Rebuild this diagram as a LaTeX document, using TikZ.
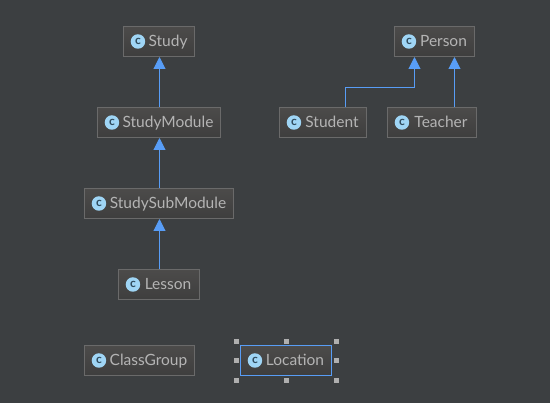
\documentclass[tikz,border=0pt]{standalone}
\usepackage{fontspec}
\setmainfont{Lato}
\usetikzlibrary{arrows.meta,positioning,calc}

\definecolor{canvasbg}{HTML}{3C3F41}
\definecolor{boxborder}{HTML}{6A6A6A}
\definecolor{boxtop}{HTML}{4C4B4A}
\definecolor{boxbottom}{HTML}{3E3E3E}
\definecolor{boxtext}{HTML}{B4B4B4}
\definecolor{inherit}{HTML}{589DF6}
\definecolor{iconfill}{HTML}{9FD5F5}
\definecolor{icontext}{HTML}{2F4A5C}
\definecolor{handle}{HTML}{AFAFAF}

\begin{document}
\begin{tikzpicture}[
    x=1pt, y=-1pt,
    node distance=50pt,
    box/.style={rectangle, draw=boxborder, line width=1pt, top color=boxtop, bottom color=boxbottom, minimum height=30pt, inner sep=0pt, text height=13pt, text depth=2.6pt, text=boxtext, font=\fontsize{15.5}{17}\selectfont, execute at begin node={\hspace{18pt}}},
    icon/.style={circle, fill=iconfill, minimum size=14.5pt, inner sep=0pt, text=icontext, font=\fontsize{12}{12}\selectfont\bfseries},
    arrow/.style={-{Triangle[length=12pt,width=12pt]}, line width=1pt, draw=inherit, color=inherit},
    selhandle/.style={rectangle, fill=handle, minimum size=5pt, inner sep=0pt}
]

\path[fill=canvasbg] (0,0) rectangle (550,403);

% Study chain
\node[box, minimum width=71pt] (study) at (159,41.5) {Study};
\node[box, minimum width=123pt, below=of study] (module) {StudyModule};
\node[box, minimum width=149pt, below=of module] (submodule) {StudySubModule};
\node[box, minimum width=81pt, below=of submodule] (lesson) {Lesson};

% People
\node[box, minimum width=80pt] (person) at (434.5,41.5) {Person};
\node[box, minimum width=87pt] (student) at (323,122.5) {Student};
\node[box, minimum width=89pt] (teacher) at (432,122.5) {Teacher};

% Loose classes
\node[box, minimum width=110pt] (group) at (139.5,360.5) {ClassGroup};
\node[box, minimum width=91pt, draw=inherit] (location) at (286,360.5) {Location};

% Icons
\node[icon, right=7.5pt of study.west] (studyicon) {c};
\node[icon, right=7.5pt of module.west] (moduleicon) {c};
\node[icon, right=7.5pt of submodule.west] (submoduleicon) {c};
\node[icon, right=7.5pt of lesson.west] (lessonicon) {c};
\node[icon, right=7.5pt of person.west] (personicon) {c};
\node[icon, right=7.5pt of student.west] (studenticon) {c};
\node[icon, right=7.5pt of teacher.west] (teachericon) {c};
\node[icon, right=7.5pt of group.west] (groupicon) {c};
\node[icon, right=7.5pt of location.west] (locationicon) {c};

% Arrows
\draw[arrow] ([xshift=.5pt]module.north) -- ([xshift=.5pt]study.south);
\draw[arrow] ([xshift=.5pt]submodule.north) -- ([xshift=.5pt]module.south);
\draw[arrow] ([xshift=.5pt]lesson.north) -- ([xshift=.5pt]submodule.south);
\draw[arrow] ([xshift=22.5pt]student.north) |- (414.5,87.5) -- ([xshift=-20pt]person.south);
\draw[arrow] ([xshift=22.5pt]teacher.north) -- ([xshift=20pt]person.south);

% Selection handles
\foreach \a/\dx/\dy in {north west/-3.5/-3.5, north/0/-3.5, north east/4.5/-3.5, west/-3.5/0, east/4.5/0, south west/-3.5/4.5, south/0/4.5, south east/4.5/4.5}
    \node[selhandle] (handle \a) at ($(location.\a)+(\dx,\dy)$) {};

\end{tikzpicture}
\end{document}
